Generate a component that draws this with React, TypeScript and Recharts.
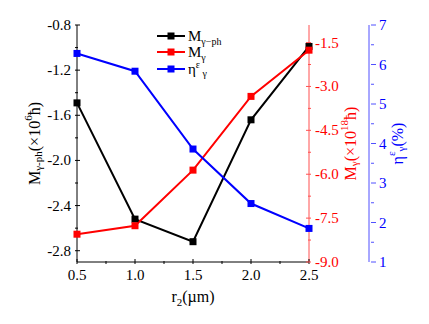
import React from "react";
import { ComposedChart, Line, XAxis, YAxis, Legend } from "recharts";

// r2 (µm) and the three series
const radii = [0.5, 1.0, 1.5, 2.0, 2.5];
const mPhonon = [-1.49, -2.52, -2.72, -1.64, -0.99];
const mGamma = [-8.05, -7.76, -5.86, -3.34, -1.76];
const etaGamma = [6.28, 5.83, 3.86, 2.48, 1.85];

const xTicks = [0.5, 0.75, 1.0, 1.25, 1.5, 1.75, 2.0, 2.25, 2.5];
const xMajor = [0.5, 1.0, 1.5, 2.0, 2.5];
const leftTicks = [-2.8, -2.6, -2.4, -2.2, -2.0, -1.8, -1.6, -1.4, -1.2, -1.0, -0.8];
const leftMajor = [-2.8, -2.4, -2.0, -1.6, -1.2, -0.8];
const redTicks = [-9.0, -8.25, -7.5, -6.75, -6.0, -5.25, -4.5, -3.75, -3.0, -2.25, -1.5];
const redMajor = [-9.0, -7.5, -6.0, -4.5, -3.0, -1.5];
const blueTicks = [1, 1.5, 2, 2.5, 3, 3.5, 4, 4.5, 5, 5.5, 6, 6.5, 7];
const blueMajor = [1, 2, 3, 4, 5, 6, 7];
const legendOrder = ["ph", "g", "eta"];

const data = radii.map((r, i) => ({ r, ph: mPhonon[i], g: mGamma[i], eta: etaGamma[i] }));

const FONT = "Liberation Serif";
const RED = "#ff0000";
const BLUE = "#0000ff";

type Side = "left" | "bottom" | "top" | "red" | "blue";

function makeTick(majors: number[], side: Side, color: string, fmt: (v: number) => string) {
  return (props: any) => {
    const { x, y, payload } = props;
    const major = majors.includes(payload.value);
    const len = major ? 5 : 3;
    const txt = { style: { fontFamily: FONT, fontSize: 15 }, fill: color };
    if (side === "left") {
      return (
        <g>
          <line x1={x} x2={x + len} y1={y} y2={y} stroke={color} />
          {major && <text x={x - 4} y={y} textAnchor="end" dominantBaseline="central" {...txt}>{fmt(payload.value)}</text>}
        </g>
      );
    }
    if (side === "bottom") {
      return (
        <g>
          <line x1={x} x2={x} y1={y} y2={y - len} stroke={color} />
          {major && <text x={x} y={y + 16} textAnchor="middle" {...txt}>{fmt(payload.value)}</text>}
        </g>
      );
    }
    if (side === "top") {
      return <line x1={x} x2={x} y1={y} y2={y + len} stroke={color} />;
    }
    if (side === "red") {
      return (
        <g>
          <line x1={x} x2={x - len} y1={y} y2={y} stroke="#ff5050" />
          {major && <text x={x + 4} y={y} textAnchor="start" dominantBaseline="central" {...txt}>{fmt(payload.value)}</text>}
        </g>
      );
    }
    return (
      <g>
        <line x1={x} x2={x + len} y1={y} y2={y} stroke="#5050ff" />
        {major && <text x={x + 8} y={y} textAnchor="start" dominantBaseline="central" {...txt}>{fmt(payload.value)}</text>}
      </g>
    );
  };
}

const squareDot = (color: string, size: number) => (p: any) => (
  <rect key={`d-${color}-${p.index}`} x={p.cx - size / 2} y={p.cy - size / 2} width={size} height={size} fill={color} />
);

// rotated axis title, centred in the axis box
function VLabel({ viewBox, dx, color, children }: any) {
  const cx = viewBox.x + dx;
  const cy = viewBox.y + viewBox.height / 2;
  return (
    <text
      x={cx}
      y={cy}
      transform={`rotate(-90, ${cx}, ${cy})`}
      textAnchor="middle"
      dominantBaseline="central"
      style={{ fontFamily: FONT, fontSize: 16 }}
      fill={color}
    >
      {children}
    </text>
  );
}

const legendNames: Record<string, React.ReactNode> = {
  ph: (
    <>
      M<tspan fontSize={10} dy={4}>γ−ph</tspan>
    </>
  ),
  g: (
    <>
      M<tspan fontSize={10} dy={4}>γ</tspan>
    </>
  ),
  eta: (
    <>
      η<tspan fontSize={10} dy={-6}>ε</tspan>
      <tspan fontSize={10} dy={9}> γ</tspan>
    </>
  ),
};

function LegendBox({ payload }: any) {
  const items = [...(payload || [])].sort(
    (a: any, b: any) => legendOrder.indexOf(a.dataKey) - legendOrder.indexOf(b.dataKey)
  );
  return (
    <svg width={120} height={56} style={{ overflow: "visible" }}>
      {items.map((e: any, i: number) => {
        const cy = 8 + i * 16 + (i === 2 ? 1 : 0);
        return (
          <g key={e.dataKey}>
            <line x1={2} x2={30} y1={cy} y2={cy} stroke={e.color} strokeWidth={2} />
            <rect x={12.5} y={cy - 3.5} width={7} height={7} fill={e.color} />
            <text x={33} y={cy + 5} style={{ fontFamily: FONT, fontSize: 15 }} fill="#000">
              {legendNames[e.dataKey]}
            </text>
          </g>
        );
      })}
    </svg>
  );
}

export default function App() {
  return (
    <div style={{ position: "absolute", left: 0, top: 0, background: "#fff", fontFamily: FONT }}>
      <ComposedChart width={429} height={324} data={data} margin={{ top: 25, right: 10, bottom: 2, left: 0 }}>
        <XAxis
          xAxisId="bottom"
          dataKey="r"
          type="number"
          domain={[0.5, 2.5]}
          ticks={xTicks}
          interval={0}
          height={60}
          tickSize={0}
          tickLine={false}
          stroke="#000"
          tick={makeTick(xMajor, "bottom", "#000", (v) => v.toFixed(1))}
          label={{
            content: ({ viewBox }: any) => (
              <text x={viewBox.x + viewBox.width / 2} y={viewBox.y + 40} textAnchor="middle" style={{ fontFamily: FONT, fontSize: 16 }} fill="#000">
                r<tspan fontSize={11} dy={4}>2</tspan>
                <tspan dy={-4}>(µm)</tspan>
              </text>
            ),
          }}
        />
        <XAxis
          xAxisId="top"
          orientation="top"
          type="number"
          domain={[0.5, 2.5]}
          allowDataOverflow
          ticks={xTicks}
          interval={0}
          height={0}
          tickSize={0}
          tickLine={false}
          stroke="#000"
          tick={makeTick(xMajor, "top", "#000", (v) => v.toFixed(1))}
        />
        <YAxis
          yAxisId="left"
          orientation="left"
          width={77}
          domain={[-2.9, -0.8]}
          ticks={leftTicks}
          interval={0}
          tickSize={0}
          tickLine={false}
          stroke="#000"
          tick={makeTick(leftMajor, "left", "#000", (v) => v.toFixed(1))}
          label={{
            content: ({ viewBox }: any) => (
              <VLabel viewBox={viewBox} dx={34} color="#000">
                M<tspan fontSize={11} dy={4}>γ-ph</tspan>
                <tspan dy={-4}>(×10</tspan>
                <tspan fontSize={11} dy={-6}>6</tspan>
                <tspan dy={6}>ħ)</tspan>
              </VLabel>
            ),
          }}
        />
        <YAxis
          yAxisId="r1"
          orientation="right"
          width={60}
          domain={[-9, -0.9]}
          ticks={redTicks}
          interval={0}
          tickSize={0}
          tickLine={false}
          stroke="#ff5050"
          tick={makeTick(redMajor, "red", RED, (v) => v.toFixed(1))}
          label={{
            content: ({ viewBox }: any) => (
              <VLabel viewBox={viewBox} dx={41} color={RED}>
                M<tspan fontSize={11} dy={4}>γ</tspan>
                <tspan dy={-4}>(×10</tspan>
                <tspan fontSize={11} dy={-6}>18</tspan>
                <tspan dy={6}>ħ)</tspan>
              </VLabel>
            ),
          }}
        />
        <YAxis
          yAxisId="r2"
          orientation="right"
          width={50}
          domain={[1, 7]}
          ticks={blueTicks}
          interval={0}
          tickSize={0}
          tickLine={false}
          stroke="#5050ff"
          tick={makeTick(blueMajor, "blue", BLUE, (v) => String(v))}
          label={{
            content: ({ viewBox }: any) => (
              <VLabel viewBox={viewBox} dx={28} color={BLUE}>
                η<tspan fontSize={11} dy={-6}>ε</tspan>
                <tspan fontSize={11} dy={10}>γ</tspan>
                <tspan dy={-4}>(%)</tspan>
              </VLabel>
            ),
          }}
        />
        <Legend
          layout="vertical"
          align="center"
          verticalAlign="middle"
          content={<LegendBox />}
          wrapperStyle={{ left: 155, top: 28, width: 120, height: 56 }}
        />
        <Line
          xAxisId="bottom"
          yAxisId="left"
          dataKey="ph"
          stroke="#000"
          strokeWidth={2}
          dot={squareDot("#000", 7)}
          activeDot={false}
          isAnimationActive={false}
        />
        <Line
          xAxisId="bottom"
          yAxisId="r1"
          dataKey="g"
          stroke={RED}
          strokeWidth={2}
          dot={squareDot(RED, 7)}
          activeDot={false}
          isAnimationActive={false}
        />
        <Line
          xAxisId="bottom"
          yAxisId="r2"
          dataKey="eta"
          stroke={BLUE}
          strokeWidth={2}
          dot={squareDot(BLUE, 7)}
          activeDot={false}
          isAnimationActive={false}
        />
      </ComposedChart>
    </div>
  );
}
